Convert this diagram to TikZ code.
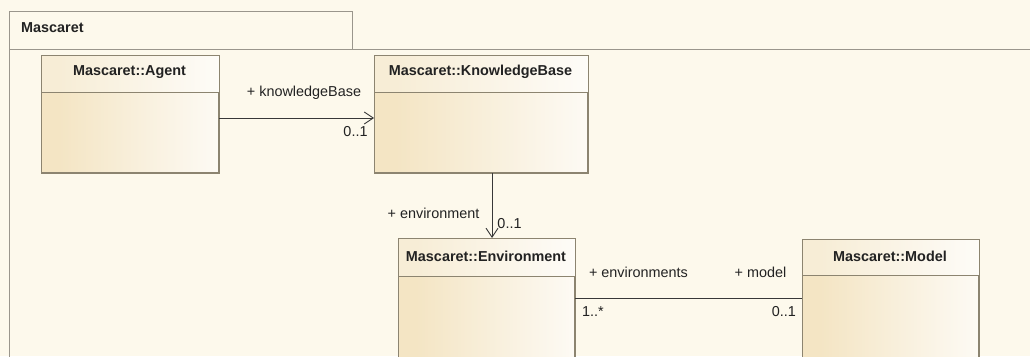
\documentclass[tikz,border=0pt]{standalone}
\usepackage{fontspec}
\setmainfont{Liberation Sans}
\usetikzlibrary{arrows.meta,calc}
\definecolor{bgcream}{HTML}{FDF9EC}
\definecolor{tanfill}{HTML}{F4E5C4}
\definecolor{tanlight}{HTML}{F7EDD6}
\definecolor{edgegray}{HTML}{8C8470}
\definecolor{pkgedge}{HTML}{9A968C}
\definecolor{ink}{HTML}{222222}
% left-to-right fades used for the class compartments
\pgfdeclarehorizontalshading{classbody}{100bp}{color(0bp)=(tanfill); color(30bp)=(tanfill); color(85bp)=(white); color(100bp)=(white)}
\pgfdeclarehorizontalshading{classhead}{100bp}{color(0bp)=(tanlight); color(30bp)=(tanlight); color(85bp)=(white); color(100bp)=(white)}
\tikzset{
  classbox/.style={draw=edgegray, line width=1pt, shading=classbody,
    rectangle, anchor=north west, inner sep=0pt},
  headfill/.style={shading=classhead},
  classname/.style={font=\fontsize{14.4}{17}\selectfont\bfseries, text=ink, inner sep=0pt},
  rolelabel/.style={font=\fontsize{14.4}{17}\selectfont, text=ink, inner sep=0pt},
  divider/.style={draw=edgegray, line width=0.9pt},
  assoc/.style={draw=ink!90, line width=0.9pt},
  navarrow/.style={assoc, -{Straight Barb[length=9pt,width=12pt,line width=0.9pt]}},
}
% header compartment: lighter fade, divider line, redrawn outline
\newcommand{\classhead}[2]{% node, divider y
  \shade[headfill] (#1.north west) rectangle (#1.east |- 0,#2);
  \draw[divider] (#1.west |- 0,#2) -- (#1.east |- 0,#2);
  \draw[draw=edgegray, line width=1pt] (#1.north west) rectangle (#1.south east);
}
\begin{document}
\begin{tikzpicture}[x=1pt,y=-1pt]
  \useasboundingbox (0,0) rectangle (1030,356);
  \clip (0,0) rectangle (1030,356);
  \fill[bgcream] (0,0) rectangle (1030,356);

  % package frame with its name tab
  \draw[pkgedge, line width=0.9pt, fill=bgcream] (9,11) rectangle (352,49);
  \draw[pkgedge, line width=0.9pt] (9,400) -- (9,49) -- (1040,49);
  \node[classname, anchor=west] (pkgname) at (21,28) {Mascaret};

  % classes
  \node[classbox, minimum width=177pt, minimum height=117pt] (agent) at (41,55) {};
  \classhead{agent}{92}
  \node[classname] (agentname) at (129.5,72) {Mascaret::Agent};

  \node[classbox, minimum width=213pt, minimum height=117pt] (kb) at (374,55) {};
  \classhead{kb}{92}
  \node[classname] (kbname) at (480.5,72) {Mascaret::KnowledgeBase};

  \node[classbox, minimum width=176pt, minimum height=160pt] (env) at (398,238) {};
  \classhead{env}{276}
  \node[classname] (envname) at (486,256) {Mascaret::Environment};

  \node[classbox, minimum width=176pt, minimum height=160pt] (model) at (802,239) {};
  \classhead{model}{275}
  \node[classname] (modelname) at (890,256) {Mascaret::Model};

  % associations
  \coordinate (kbrow) at (0,118);
  \draw[navarrow] (agent.east |- kbrow) -- (kb.west |- kbrow);
  \node[rolelabel] (kbrole) at (304,93) {+ knowledgeBase};
  \node[rolelabel] (kbmult) at (355.5,132) {0..1};

  \coordinate (envcol) at (492,0);
  \draw[navarrow] (envcol |- kb.south) -- (envcol |- env.north);
  \node[rolelabel] (envrole) at (433.5,213) {+ environment};
  \node[rolelabel] (envmult) at (509.5,224) {0..1};

  \coordinate (modelrow) at (0,298);
  \draw[assoc] (env.east |- modelrow) -- (model.west |- modelrow);
  \node[rolelabel] (envsrole) at (638.5,272) {+ environments};
  \node[rolelabel] (modelrole) at (760.5,272) {+ model};
  \node[rolelabel, anchor=west] (envsmult) at (582,312) {1..*};
  \node[rolelabel, anchor=east] (modelmult) at (796,312) {0..1};
\end{tikzpicture}
\end{document}
